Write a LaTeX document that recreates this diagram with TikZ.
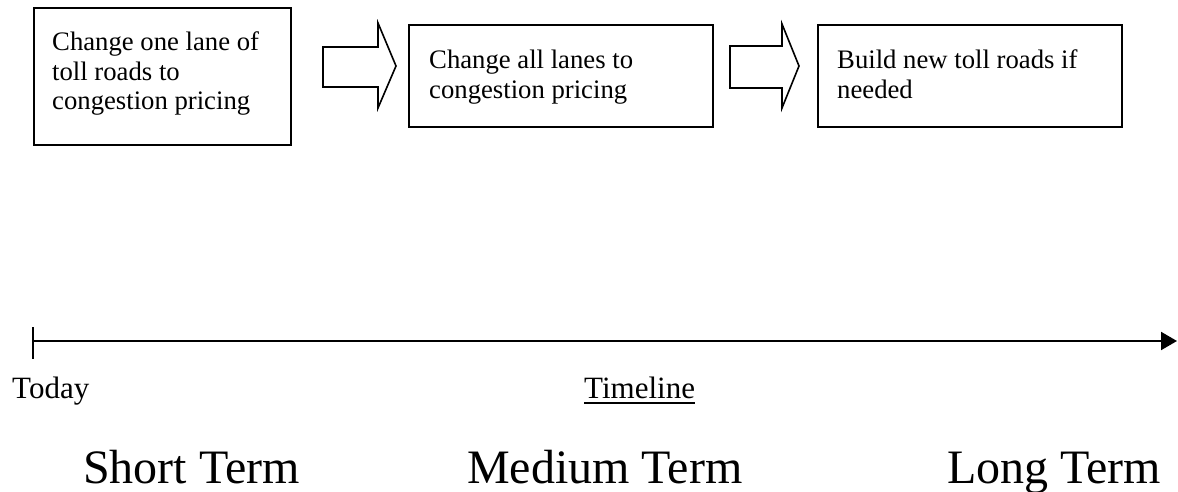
\documentclass[tikz,border=0pt]{standalone}
\usepackage{fontspec}
\setmainfont{Liberation Serif}
\usetikzlibrary{arrows.meta}
\tikzset{
  box/.style={draw=black, line width=1.6pt, rectangle, inner sep=0pt, anchor=north west},
  boxtext/.style={anchor=north west, inner sep=0pt, align=left, font=\fontsize{26.7}{29.5}\selectfont},
  blockarrow/.style={draw=black, line width=1.6pt, line join=miter, fill=white},
  smalltext/.style={anchor=base west, inner sep=0pt, font=\fontsize{31}{36}\selectfont},
  termtext/.style={anchor=base west, inner sep=0pt, font=\fontsize{48}{56}\selectfont},
}
\begin{document}
\begin{tikzpicture}[x=1pt,y=-1pt]
\useasboundingbox (0,0) rectangle (1178,492);
% boxes
\node[box, minimum width=257pt, minimum height=137pt] (b1) at (33,7) {};
\node[box, minimum width=304pt, minimum height=102pt] (b2) at (408,24) {};
\node[box, minimum width=304pt, minimum height=102pt] (b3) at (817,24) {};
\node[boxtext] (t1) at ([shift={(19pt,-25pt)}]b1.north west) {Change one lane of\\toll roads to\\congestion pricing};
\node[boxtext] (t2) at ([shift={(21pt,-26pt)}]b2.north west) {Change all lanes to\\congestion pricing};
\node[boxtext] (t3) at ([shift={(20pt,-26pt)}]b3.north west) {Build new toll roads if\\needed};
% block arrows
\draw[blockarrow] (323,47) -- (378,47) -- (378,23) -- (396,66) -- (378,108) -- (378,87) -- (323,87) -- cycle;
\draw[blockarrow] (730,46) -- (782,46) -- (782,24) -- (799,66) -- (782,108) -- (782,88) -- (730,88) -- cycle;
% timeline
\coordinate (ts) at (33,341);
\coordinate (te) at (1177,341);
\coordinate (tk1) at (33,327);
\coordinate (tk2) at (33,359);
\draw[line width=2pt, -{Triangle[length=16pt,width=18pt]}] (ts) -- (te);
\draw[line width=2pt] (tk1) -- (tk2);
\node[smalltext] (today) at (12,398) {Today};
\node[smalltext] (tl) at (584,398) {Timeline};
\draw[line width=2pt] ([yshift=-5pt]tl.base west) -- ([yshift=-5pt]tl.base east);
\node[termtext] (st) at (83,483) {Short Term};
\node[termtext] (mt) at (467,483) {Medium Term};
\node[termtext] (lt) at (947,483) {Long Term};
\end{tikzpicture}
\end{document}
